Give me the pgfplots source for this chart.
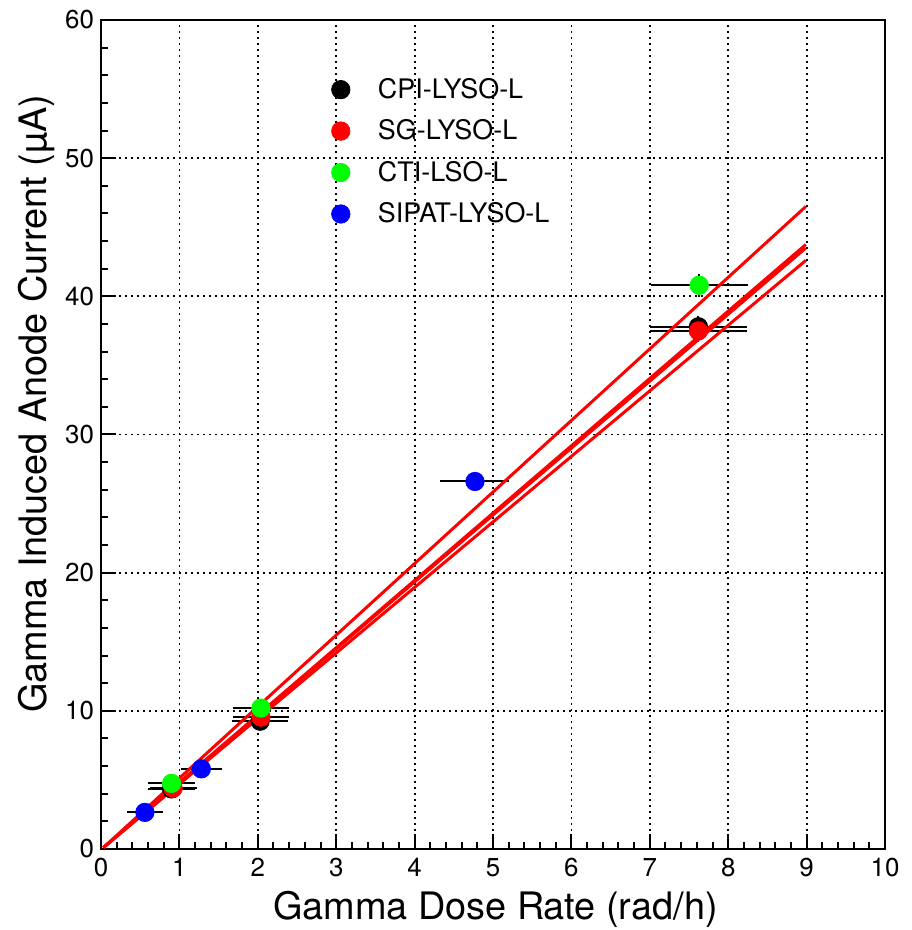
\documentclass[border=0pt]{standalone}
\usepackage{fontspec}
\setmainfont{TeX Gyre Heros}
\usepackage{pgfplots}
\pgfplotsset{compat=1.18}
\begin{document}
\begin{tikzpicture}
\begin{axis}[
  scale only axis, width=392bp, height=414.5bp,
  xmin=0, xmax=10, ymin=0, ymax=60,
  xtick={0,1,...,10}, ytick={0,10,...,60},
  minor x tick num=4, minor y tick num=4,
  xtick pos=bottom, ytick pos=left, tick align=inside,
  major tick length=7.5bp, minor tick length=3.5bp,
  axis line style={line width=1bp},
  every tick/.style={black, line width=1bp},
  grid=major,
  major grid style={black, line width=0.9bp, dash pattern=on 0.9bp off 2.1bp},
  tick label style={font=\fontsize{13}{15}\selectfont},
  xticklabel style={yshift=-1bp},
  /pgf/number format/assume math mode=true,
  xlabel={Gamma Dose Rate (rad/h)},
  ylabel={Gamma Induced Anode Current (µA)},
  label style={font=\fontsize{19}{22}\selectfont},
  xlabel style={at={(rel axis cs:0.503,-0.0856)}, anchor=base},
  ylabel style={at={(rel axis cs:-0.069,0.537)}, anchor=base},
  legend style={at={(rel axis cs:0.286,0.94)}, anchor=north west, draw=none, fill=none,
    font=\fontsize{13.5}{16}\selectfont, row sep=5.2bp,
    /tikz/every odd column/.append style={column sep=12bp}},
  legend cell align=left,
  error bars/error bar style={black, line width=1bp},
  error bars/error mark=none,
]
% dose rate, current, dose-rate error, current error
\addplot[only marks, mark=*, mark size=4.6bp, black,
  error bars/.cd, x dir=both, x explicit, y dir=both, y explicit]
  table[x=x, y=y, x error=ex, y error=ey] {
  x     y     ex    ey
  0.90  4.35  0.30  0.10
  2.03  9.25  0.36  0.20
  7.62  37.8  0.62  0.80
};
\addlegendentry{CPI-LYSO-L}
\addplot[only marks, mark=*, mark size=4.6bp, red,
  error bars/.cd, x dir=both, x explicit, y dir=both, y explicit]
  table[x=x, y=y, x error=ex, y error=ey] {
  x     y     ex    ey
  0.92  4.40  0.30  0.10
  2.04  9.55  0.36  0.20
  7.62  37.5  0.62  0.80
};
\addlegendentry{SG-LYSO-L}
\addplot[only marks, mark=*, mark size=4.6bp, green,
  error bars/.cd, x dir=both, x explicit, y dir=both, y explicit]
  table[x=x, y=y, x error=ex, y error=ey] {
  x     y     ex    ey
  0.90  4.75  0.30  0.10
  2.04  10.2  0.36  0.20
  7.63  40.8  0.62  0.85
};
\addlegendentry{CTI-LSO-L}
\addplot[only marks, mark=*, mark size=4.6bp, blue,
  error bars/.cd, x dir=both, x explicit, y dir=both, y explicit]
  table[x=x, y=y, x error=ex, y error=ey] {
  x     y     ex    ey
  0.56  2.65  0.23  0.10
  1.28  5.80  0.26  0.15
  4.77  26.6  0.44  0.50
};
\addlegendentry{SIPAT-LYSO-L}
% linear fits
\addplot[red, line width=1.5bp, forget plot] coordinates {(0.03,0.1) (8.99,46.5)};
\addplot[red, line width=1.5bp, forget plot] coordinates {(0.03,0.1) (8.99,43.5)};
\addplot[red, line width=1.5bp, forget plot] coordinates {(0.03,0.1) (8.99,43.75)};
\addplot[red, line width=1.5bp, forget plot] coordinates {(0.03,0.1) (8.99,42.6)};
\end{axis}
\pgfresetboundingbox
\path ([shift={(-50.5bp,-40.5bp)}]current axis.south west) rectangle ([shift={(13.5bp,10bp)}]current axis.north east);
\end{tikzpicture}
\end{document}
